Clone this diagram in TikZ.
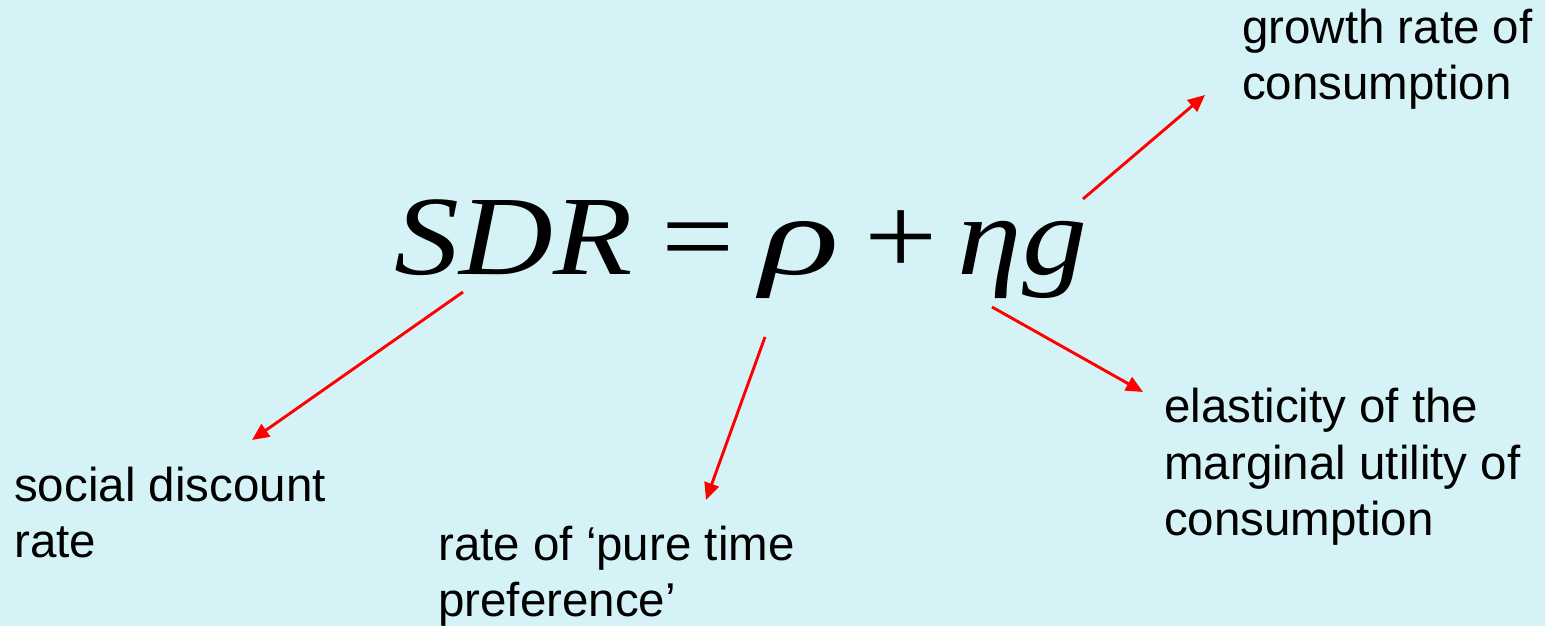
\documentclass[tikz,border=0pt]{standalone}
\usepackage{fontspec}
\setmainfont{Liberation Sans}
\newfontfamily\tmsfont{Liberation Serif}
\usetikzlibrary{arrows.meta}
\definecolor{bgc}{RGB}{213,243,247}
\definecolor{arr}{RGB}{255,0,0}
\tikzset{
  lbl/.style={anchor=base west, inner sep=0pt, align=left, font=\fontsize{47.5}{56.5}\selectfont},
  redarrow/.style={draw=arr, line width=2.9pt, -{Triangle[length=17pt,width=15pt]}},
}
\begin{document}
\begin{tikzpicture}[x=1pt,y=1pt]
\fill[bgc] (0,0) rectangle (1545,626);
\useasboundingbox (0,0) rectangle (1545,626);
% formula
\node[anchor=base west, inner sep=0pt, font=\tmsfont\fontsize{113}{113}\selectfont] (eq) at (394,351)
  {\scalebox{1.15}[1]{\textit{SDR}\hspace{0.225em}=\hspace{0.2em}\scalebox{1.27}[1]{\textit{ρ}}\hspace{0.19em}+\hspace{0.15em}\textit{ηg}}};
% labels
\node[lbl] (growth) at (1242,526) {growth rate of\\consumption};
\node[lbl] (sdr) at (14,68) {social discount\\rate};
\node[lbl] (ptp) at (438,9) {rate of ‘pure time\\preference’};
\node[lbl] (elast) at (1164,90) {elasticity of the\\marginal utility of\\consumption};
% arrow coordinates
\coordinate (g1) at (1083,427);
\coordinate (g2) at (1205,531);
\coordinate (s1) at (463,334);
\coordinate (s2) at (252,186);
\coordinate (r1) at (765,289);
\coordinate (r2) at (706,126);
\coordinate (e1) at (992,319);
\coordinate (e2) at (1143,234);
\draw[redarrow] (g1) -- (g2);
\draw[redarrow] (s1) -- (s2);
\draw[redarrow] (r1) -- (r2);
\draw[redarrow] (e1) -- (e2);
\end{tikzpicture}
\end{document}
